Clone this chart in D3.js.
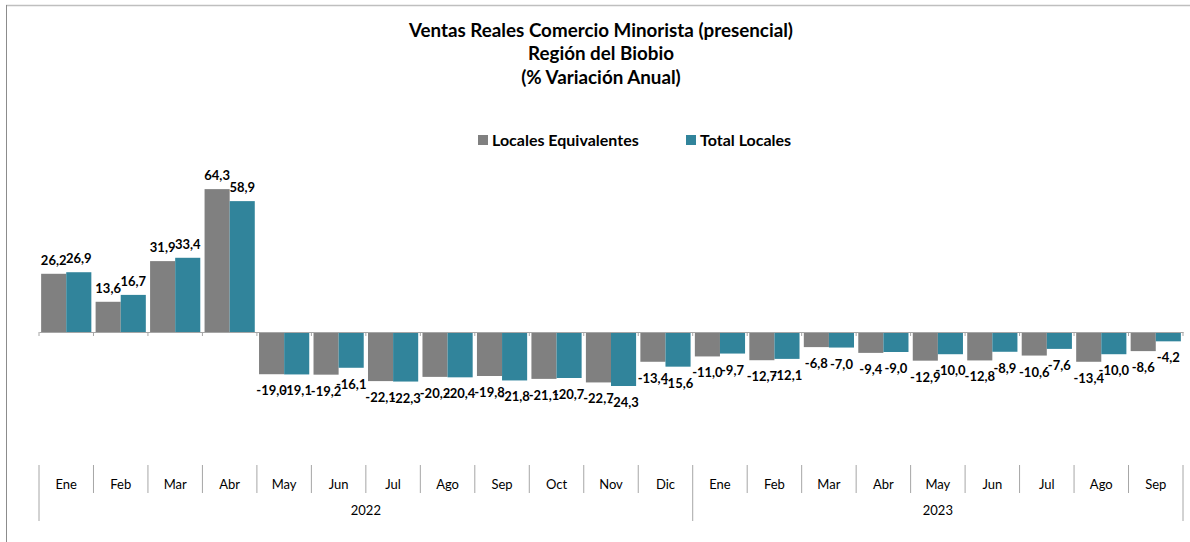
<!DOCTYPE html>
<html>
<head>
<meta charset="utf-8">
<script src="https://cdn.jsdelivr.net/npm/d3@7"></script>
<style>
  html, body { margin: 0; padding: 0; background: #fff; }
  svg { display: block; font-family: Lato, "Open Sans", sans-serif; }
</style>
</head>
<body>
<svg id="chart" width="1190" height="542"></svg>
<script>
const months = ["Ene","Feb","Mar","Abr","May","Jun","Jul","Ago","Sep","Oct","Nov","Dic",
                "Ene","Feb","Mar","Abr","May","Jun","Jul","Ago","Sep"];
const years = ["2022","2023"];
const yearCounts = [12, 9];
const seriesNames = ["Locales Equivalentes", "Total Locales"];
const localesEquivalentes = [26.2, 13.6, 31.9, 64.3, -19.0, -19.2, -22.1, -20.2, -19.8, -21.1, -22.7, -13.4,
                             -11.0, -12.7, -6.8, -9.4, -12.9, -12.8, -10.6, -13.4, -8.6];
const totalLocales = [26.9, 16.7, 33.4, 58.9, -19.1, -16.1, -22.3, -20.4, -21.8, -20.7, -24.3, -15.6,
                      -9.7, -12.1, -7.0, -9.0, -10.0, -8.9, -7.6, -10.0, -4.2];
const titleLines = ["Ventas Reales Comercio Minorista (presencial)", "Región del Biobio", "(% Variación Anual)"];

const colors = ["#808080", "#31849B"];
const svg = d3.select("#chart");

// border
svg.append("line").attr("x1", 6).attr("x2", 1190).attr("y1", 5.5).attr("y2", 5.5)
  .attr("stroke", "#bfbfbf").attr("stroke-width", 1.5);
svg.append("line").attr("x1", 6.5).attr("x2", 6.5).attr("y1", 5).attr("y2", 542)
  .attr("stroke", "#8c8c8c").attr("stroke-width", 1);

// title
svg.append("g").selectAll("text").data(titleLines).join("text")
  .attr("x", 601).attr("y", (d, i) => 36.5 + i * 23.5)
  .attr("text-anchor", "middle").attr("font-weight", "bold").attr("font-size", 18.8)
  .attr("fill", "#000").text(d => d);

// legend
const legendX = [478, 686];
const lg = svg.append("g").selectAll("g").data(seriesNames).join("g")
  .attr("transform", (d, i) => `translate(${legendX[i]},140)`);
lg.append("rect").attr("x", 0).attr("y", -5).attr("width", 10).attr("height", 10)
  .attr("fill", (d, i) => colors[i]);
lg.append("text").attr("x", 14).attr("y", 5.5).attr("font-size", 16).attr("font-weight", "bold")
  .text(d => d);

// scales
const idx = d3.range(months.length);
const x = d3.scaleBand().domain(idx).range([39, 1183]).paddingInner(0).paddingOuter(0);
const x1 = d3.scaleBand().domain([0, 1]).range([0, x.bandwidth()]).paddingOuter(0.085).paddingInner(0);
const y = d3.scaleLinear().domain([-40, 80]).range([332 + 40 * 2.222, 332 - 80 * 2.222]);

const data = idx.map(i => [localesEquivalentes[i], totalLocales[i]]);

// bars
const groups = svg.append("g").selectAll("g").data(data).join("g")
  .attr("transform", (d, i) => `translate(${x(i)},0)`);
groups.selectAll("rect").data(d => d).join("rect")
  .attr("x", (d, j) => x1(j))
  .attr("width", x1.bandwidth())
  .attr("y", d => Math.min(y(d), y(0)))
  .attr("height", d => Math.abs(y(d) - y(0)))
  .attr("fill", (d, j) => colors[j]);

// zero axis
const zeroAxis = d3.axisBottom(x).tickValues([]).tickSizeOuter(0);
const za = svg.append("g").attr("transform", `translate(0,${y(0)})`).call(zeroAxis);
za.select(".domain").attr("stroke", "#a6a6a6").attr("stroke-width", 1);
za.selectAll(".bt").data(d3.range(months.length + 1)).join("line")
  .attr("x1", i => i < months.length ? x(i) : x.range()[1])
  .attr("x2", i => i < months.length ? x(i) : x.range()[1])
  .attr("y1", 0).attr("y2", 4).attr("stroke", "#a6a6a6");

// data labels
const fmt = v => d3.format(".1f")(v).replace(".", ",").replace("−", "-");
groups.selectAll("text").data(d => d).join("text")
  .attr("x", (d, j) => x1(j) + x1.bandwidth() / 2)
  .attr("y", d => d >= 0 ? y(d) - 9 : y(d) + 21)
  .attr("text-anchor", "middle").attr("font-size", 13).attr("font-weight", "bold")
  .attr("fill", "#000").text(d => fmt(d));

// category axis (month row)
const catTop = 465, monthBottom = 493, yearBottom = 521;
const catG = svg.append("g");
const boundaries = d3.range(months.length + 1);
let yearStarts = [0];
yearCounts.reduce((acc, c) => { yearStarts.push(acc + c); return acc + c; }, 0);
catG.selectAll("line").data(boundaries).join("line")
  .attr("x1", i => i < months.length ? x(i) : x.range()[1])
  .attr("x2", i => i < months.length ? x(i) : x.range()[1])
  .attr("y1", catTop)
  .attr("y2", i => yearStarts.includes(i) ? yearBottom : monthBottom)
  .attr("stroke", "#a6a6a6").attr("stroke-width", 1);
catG.selectAll("text.m").data(months).join("text").attr("class", "m")
  .attr("x", (d, i) => x(i) + x.bandwidth() / 2).attr("y", 489)
  .attr("text-anchor", "middle").attr("font-size", 13).attr("fill", "#000").text(d => d);
catG.selectAll("text.yr").data(years).join("text").attr("class", "yr")
  .attr("x", (d, i) => {
    const s = yearStarts[i], e = yearStarts[i + 1];
    const xe = e < months.length ? x(e) : x.range()[1];
    return (x(s) + xe) / 2;
  })
  .attr("y", 515).attr("text-anchor", "middle").attr("font-size", 13).attr("fill", "#000").text(d => d);
</script>
</body>
</html>
